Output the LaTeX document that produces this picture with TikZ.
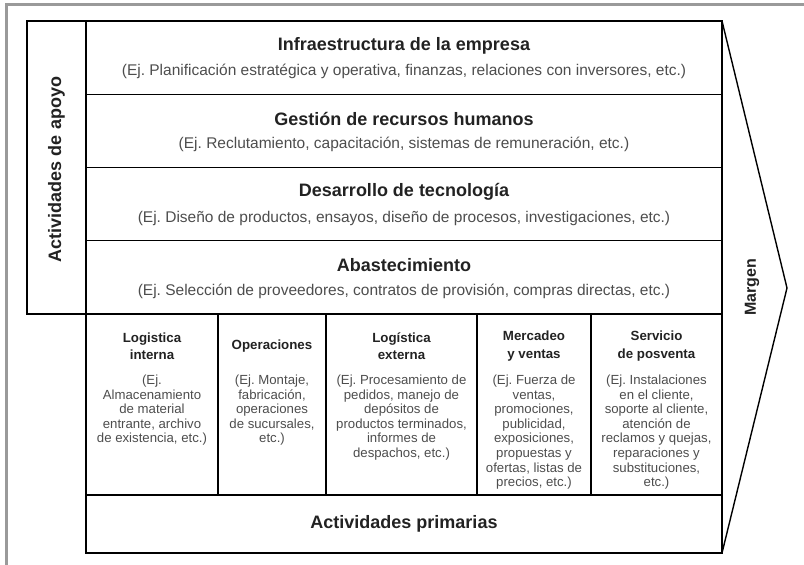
\documentclass[tikz,border=0pt]{standalone}
\usepackage{fontspec}
\setmainfont{Liberation Sans}
\usetikzlibrary{positioning}
\definecolor{framegray}{HTML}{9A9A9A}
\definecolor{titlegray}{HTML}{222222}
\definecolor{bodygray}{HTML}{4D4D4D}
\frenchspacing

\begin{document}
\begin{tikzpicture}[x=1pt, y=-1pt,
    every node/.style={inner sep=0pt, outer sep=0pt},
    box/.style={draw, line width=1.4pt, anchor=north west},
    rowtitle/.style={font=\fontsize{18}{21}\selectfont\bfseries, text=titlegray},
    rowtext/.style={font=\fontsize{15.5}{18}\selectfont, text=bodygray},
    coltitle/.style={font=\fontsize{13.3}{17.5}\selectfont\bfseries, text=titlegray, align=center},
    coltext/.style={font=\fontsize{13.2}{14.6}\selectfont, text=bodygray, align=center, anchor=north}]
    \useasboundingbox (0,0) rectangle (804,565);
    \draw[framegray, line width=3pt] (6,565) -- (6,4) -- (804,4);

    % actividades de apoyo
    \node[box, minimum width=59pt, minimum height=293pt](apoyo) at (27,21) {};
    \node[rotate=90, rowtitle, xshift=-2pt] at (apoyo.center) {Actividades de apoyo};
    \node[box, minimum width=636pt, minimum height=73.25pt](infra) at (86,21) {};
    \node[box, minimum width=636pt, minimum height=73.25pt, below=0pt of infra](rrhh) {};
    \node[box, minimum width=636pt, minimum height=73.25pt, below=0pt of rrhh](tecno) {};
    \node[box, minimum width=636pt, minimum height=73.25pt, below=0pt of tecno](abast) {};

    \node[rowtitle, yshift=12pt] at (infra.center) {Infraestructura de la empresa};
    \node[rowtext, yshift=-14pt] at (infra.center) {(Ej. Planificación estratégica y operativa, finanzas, relaciones con inversores, etc.)};
    \node[rowtitle, yshift=12pt] at (rrhh.center) {Gestión de recursos humanos};
    \node[rowtext, yshift=-14pt] at (rrhh.center) {(Ej. Reclutamiento, capacitación, sistemas de remuneración, etc.)};
    \node[rowtitle, yshift=12pt] at (tecno.center) {Desarrollo de tecnología};
    \node[rowtext, yshift=-14pt] at (tecno.center) {(Ej. Diseño de productos, ensayos, diseño de procesos, investigaciones, etc.)};
    \node[rowtitle, yshift=12pt] at (abast.center) {Abastecimiento};
    \node[rowtext, yshift=-14pt] at (abast.center) {(Ej. Selección de proveedores, contratos de provisión, compras directas, etc.)};

    % actividades primarias
    \node[box, minimum width=132pt, minimum height=181pt](logint) at (86,314) {};
    \node[box, minimum width=108pt, minimum height=181pt, right=0pt of logint](oper) {};
    \node[box, minimum width=151pt, minimum height=181pt, right=0pt of oper](logext) {};
    \node[box, minimum width=114pt, minimum height=181pt, right=0pt of logext](merc) {};
    \node[box, minimum width=131pt, minimum height=181pt, right=0pt of merc](posv) {};
    \node[box, minimum width=636pt, minimum height=58pt](primarias) at (86,495) {};
    \node[rowtitle] at (primarias.center) {Actividades primarias};

    \node[coltitle, yshift=-32pt] at (logint.north) {Logistica\\interna};
    \node[coltext, yshift=-61pt] at (logint.north) {(Ej.\\Almacenamiento\\de material\\entrante, archivo\\de existencia, etc.)};
    \node[coltitle, yshift=-32pt] at (oper.north) {Operaciones};
    \node[coltext, yshift=-61pt] at (oper.north) {(Ej. Montaje,\\fabricación,\\operaciones\\de sucursales,\\etc.)};
    \node[coltitle, yshift=-32pt] at (logext.north) {Logística\\externa};
    \node[coltext, yshift=-61pt] at (logext.north) {(Ej. Procesamiento de\\pedidos, manejo de\\depósitos de\\productos terminados,\\informes de\\despachos, etc.)};
    \node[coltitle, yshift=-32pt] at (merc.north) {Mercadeo\\y ventas};
    \node[coltext, yshift=-61pt] at (merc.north) {(Ej. Fuerza de\\ventas,\\promociones,\\publicidad,\\exposiciones,\\propuestas y\\ofertas, listas de\\precios, etc.)};
    \node[coltitle, yshift=-32pt] at (posv.north) {Servicio\\de posventa};
    \node[coltext, yshift=-61pt] at (posv.north) {(Ej. Instalaciones\\en el cliente,\\soporte al cliente,\\atención de\\reclamos y quejas,\\reparaciones y\\substituciones,\\etc.)};

    % margen
    \coordinate (tip) at (787,288);
    \draw[line width=1.4pt, line join=miter] (infra.north east) -- (tip) -- (primarias.south east);
    \node[rotate=90, font=\fontsize{16}{19}\selectfont\bfseries, text=titlegray] at (752,287) {Margen};
\end{tikzpicture}
\end{document}
